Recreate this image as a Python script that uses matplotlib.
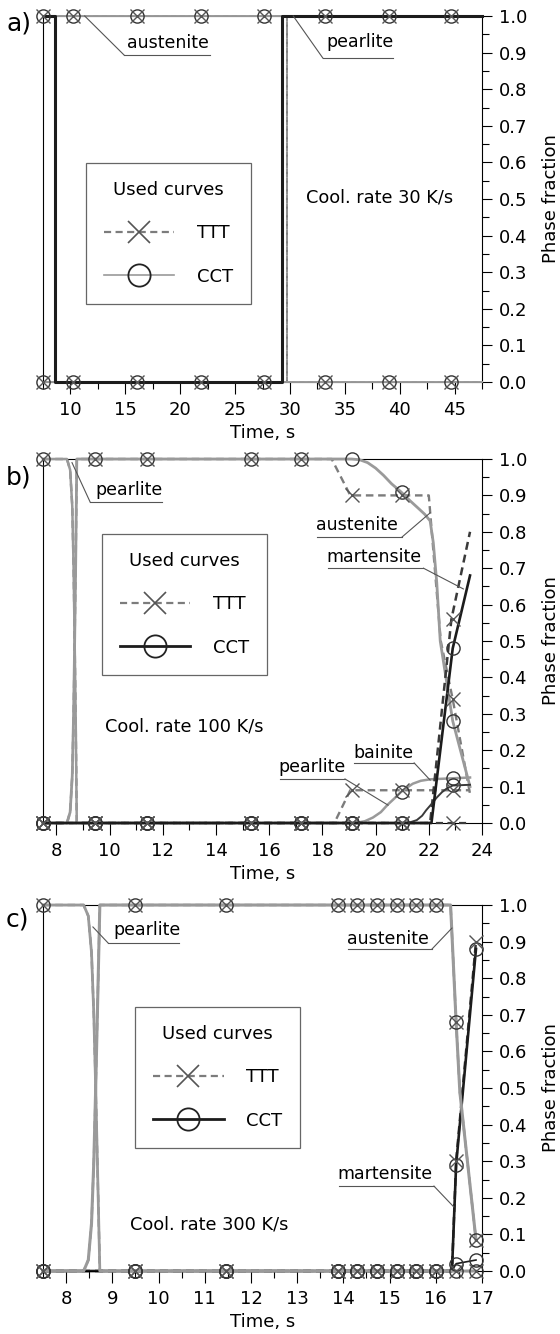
import matplotlib
matplotlib.use("Agg")
import matplotlib.pyplot as plt
from matplotlib.lines import Line2D
from matplotlib.ticker import MultipleLocator, FixedLocator, FormatStrFormatter

plt.rcParams['font.family'] = ['DejaVu Sans']

W, H = 560, 1334

# ---------------- common ----------------
y_ticks = [0.0, 0.1, 0.2, 0.3, 0.4, 0.5, 0.6, 0.7, 0.8, 0.9, 1.0]

# ---------------- panel a : 30 K/s ----------------
a_xticks = [10, 15, 20, 25, 30, 35, 40, 45]
a_cct_t = [7.5, 8.6, 8.6, 29.3, 29.3, 47.5]
a_ttt_t = [7.5, 8.6, 8.6, 29.7, 29.7, 47.5]
a_aust_f = [0.0, 0.0, 1.0, 1.0, 0.0, 0.0]
a_pearl_f = [1.0, 1.0, 0.0, 0.0, 1.0, 1.0]
a_mark_t = [7.5, 10.2, 16.1, 21.9, 27.6, 33.2, 39.0, 44.7]
a_mark_aust = [0, 1, 1, 1, 1, 0, 0, 0]
a_mark_pearl = [1, 0, 0, 0, 0, 1, 1, 1]

# ---------------- panel b : 100 K/s ----------------
b_xticks = [8, 10, 12, 14, 16, 18, 20, 22, 24]
b_spike_t = [8.40, 8.52, 8.60, 8.65, 8.69, 8.73, 8.77]
b_spike_up = [0.0, 0.03, 0.13, 0.30, 0.50, 0.72, 1.0]
b_spike_down = [1.0, 0.97, 0.87, 0.70, 0.50, 0.28, 0.0]
b_aust_cct_t = [19.1, 19.4, 19.7, 20.0, 20.3, 20.6, 20.95, 21.3, 21.6, 21.85, 22.05,
                22.17, 22.3, 22.43, 22.9, 23.55]
b_aust_cct_f = [1.0, 0.998, 0.99, 0.975, 0.955, 0.932, 0.91, 0.885, 0.865, 0.848, 0.83,
                0.77, 0.66, 0.50, 0.28, 0.10]
b_aust_ttt_t = [18.35, 19.05, 22.0, 22.45, 22.9, 23.55]
b_aust_ttt_f = [1.0, 0.90, 0.90, 0.50, 0.34, 0.08]
b_pearl_cct_t = [19.25, 19.6, 19.9, 20.2, 20.45, 20.7, 20.95, 21.2, 21.4, 21.7, 22.05, 23.55]
b_pearl_cct_f = [0.0, 0.005, 0.015, 0.03, 0.05, 0.067, 0.085, 0.098, 0.108, 0.116, 0.12, 0.125]
b_pearl_ttt_t = [18.45, 19.05, 23.55]
b_pearl_ttt_f = [0.0, 0.09, 0.09]
b_bain_cct_t = [7.5, 21.0, 21.3, 21.55, 21.75, 21.9, 22.1, 22.3, 22.5, 22.68, 22.9, 23.55]
b_bain_cct_f = [0.0, 0.0, 0.002, 0.008, 0.02, 0.035, 0.052, 0.07, 0.085, 0.095, 0.103, 0.105]
b_bain_ttt_t = [7.5, 23.55]
b_bain_ttt_f = [0.0, 0.0]
b_mart_cct_t = [7.5, 22.1, 22.9, 23.55]
b_mart_cct_f = [0.0, 0.0, 0.48, 0.68]
b_mart_ttt_t = [7.5, 22.05, 22.85, 23.55]
b_mart_ttt_f = [0.0, 0.0, 0.56, 0.80]
b_mark_t = [7.5, 9.45, 11.4, 15.3, 17.2, 19.1, 21.0, 22.9]
b_mark_aust_cct = [0, 1, 1, 1, 1, 1, 0.91, 0.28]
b_mark_aust_ttt = [0, 1, 1, 1, 1, 0.9, 0.9, 0.34]
b_mark_pearl_cct = [1, 0, 0, 0, 0, 0, 0.085, 0.125]
b_mark_pearl_ttt = [1, 0, 0, 0, 0, 0.09, 0.09, 0.09]
b_mark_bain_cct = [0, 0, 0, 0, 0, 0, 0, 0.105]
b_mark_bain_ttt = [0, 0, 0, 0, 0, 0, 0, 0]
b_mark_mart_cct = [0, 0, 0, 0, 0, 0, 0, 0.48]
b_mark_mart_ttt = [0, 0, 0, 0, 0, 0, 0, 0.56]

# ---------------- panel c : 300 K/s ----------------
c_xticks = [8, 9, 10, 11, 12, 13, 14, 15, 16, 17]
c_spike_t = [8.38, 8.48, 8.55, 8.60, 8.64, 8.68, 8.73]
c_spike_up = [0.0, 0.03, 0.13, 0.30, 0.50, 0.72, 1.0]
c_spike_down = [1.0, 0.97, 0.87, 0.70, 0.50, 0.28, 0.0]
c_aust_t = [16.32, 16.44, 16.52, 16.87]
c_aust_f = [1.0, 0.68, 0.49, 0.085]
c_pearl_t = [16.87]
c_pearl_f = [0.0]
c_mart_cct_t = [7.5, 16.35, 16.44, 16.87]
c_mart_cct_f = [0.0, 0.0, 0.29, 0.88]
c_mart_ttt_t = [7.5, 16.35, 16.44, 16.87]
c_mart_ttt_f = [0.0, 0.0, 0.30, 0.90]
c_bain_cct_t = [7.5, 16.35, 16.44, 16.87]
c_bain_cct_f = [0.0, 0.0, 0.02, 0.03]
c_mark_t = [7.5, 9.5, 11.45, 13.88, 14.3, 14.73, 15.15, 15.58, 16.0, 16.44, 16.87]
c_mark_aust = [0, 1, 1, 1, 1, 1, 1, 1, 1, 0.68, 0.085]
c_mark_pearl = [1, 0, 0, 0, 0, 0, 0, 0, 0, 0, 0]
c_mark_mart_cct = [0, 0, 0, 0, 0, 0, 0, 0, 0, 0.29, 0.88]
c_mark_mart_ttt = [0, 0, 0, 0, 0, 0, 0, 0, 0, 0.30, 0.90]
c_mark_bain_cct = [0, 0, 0, 0, 0, 0, 0, 0, 0, 0.02, 0.03]

GRAY = '#9a9a9a'
DGRAY = '#7c7c7c'
BLACK = '#1c1c1c'
DARK = '#3a3a3a'
DASH = (0, (3.2, 2.0))

fig = plt.figure(figsize=(W / 100, H / 100), dpi=100)


def px_axes(top, bottom):
    return fig.add_axes([43 / W, 1 - bottom / H, 439 / W, (bottom - top) / H])


axA = px_axes(16, 382)
axB = px_axes(459, 823)
axC = px_axes(905, 1271)


def style(ax, xlim, xticks, minor):
    ax.set_xlim(*xlim)
    ax.set_ylim(0, 1)
    ax.xaxis.set_major_locator(FixedLocator(xticks))
    ax.xaxis.set_minor_locator(MultipleLocator(minor))
    ax.yaxis.set_major_locator(FixedLocator(y_ticks))
    ax.yaxis.set_minor_locator(MultipleLocator(0.05))
    ax.yaxis.set_major_formatter(FormatStrFormatter('%.1f'))
    ax.yaxis.tick_right()
    ax.yaxis.set_label_position('right')
    ax.tick_params(axis='x', which='major', direction='out', length=8.5, width=0.8,
                   pad=5, labelsize=13, top=False)
    ax.tick_params(axis='x', which='minor', direction='out', length=5, width=0.8, top=False)
    ax.tick_params(axis='y', which='major', direction='out', length=7, width=0.8,
                   pad=5.5, labelsize=13, left=False, right=True)
    ax.tick_params(axis='y', which='minor', direction='out', length=5, width=0.8,
                   left=False, right=True)
    for s in ax.spines.values():
        s.set_linewidth(0.8)
        s.set_color('black')
    ax.set_xlabel('Time, s', fontsize=13, labelpad=4)
    ax.set_ylabel('Phase fraction', fontsize=13, labelpad=10)


def line(ax, t, f, color, lw, dashed=False, z=2):
    ax.plot(t, f, color=color, lw=lw, ls=DASH if dashed else '-', clip_on=False,
            zorder=z, solid_joinstyle='round')


def cct_marks(ax, t, f):
    ax.plot(t, f, ls='none', marker='o', ms=9.5, mfc='none', mec='#333333', mew=1.0,
            clip_on=False, zorder=6)


def ttt_marks(ax, t, f):
    ax.plot(t, f, ls='none', marker='x', ms=9.5, mec='#555555', mew=1.0,
            clip_on=False, zorder=6)


def note(ax, text, tx, ty, ux0, ux1, uy, lx, ly, lead_from_right=True, size=12.5):
    ax.text(tx, ty, text, fontsize=size, ha='center', va='center', zorder=7)
    ax.plot([ux0, ux1], [uy, uy], color='#555555', lw=0.8, clip_on=False, zorder=7)
    sx = ux1 if lead_from_right else ux0
    ax.plot([sx, lx], [uy, ly], color='#555555', lw=0.8, clip_on=False, zorder=7)


def legend(ax, x, y, cct_color, cct_lw):
    h_ttt = Line2D([], [], color=DGRAY, lw=1.6, ls=DASH, marker='x', ms=16,
                   mec='#555555', mew=1.2)
    h_cct = Line2D([], [], color=cct_color, lw=cct_lw, marker='o', ms=16,
                   mfc='none', mec='#222222', mew=1.3)
    lg = ax.legend([h_ttt, h_cct], ['TTT', 'CCT'], title='Used curves',
                   loc='upper left', bbox_to_anchor=(x, y), borderaxespad=0,
                   fontsize=13, title_fontsize=13, frameon=True, fancybox=False,
                   edgecolor='#666666', framealpha=1, borderpad=1.0,
                   labelspacing=1.4, handlelength=3.9, handletextpad=1.25)
    lg.get_frame().set_linewidth(0.9)
    lg.set_zorder(8)


# ---------------- draw panel a ----------------
style(axA, (7.5, 47.5), a_xticks, 2.5)
line(axA, a_ttt_t, a_aust_f, DGRAY, 1.2, dashed=True, z=2)
line(axA, a_ttt_t, a_pearl_f, DGRAY, 1.2, dashed=True, z=2)
line(axA, a_cct_t, a_aust_f, GRAY, 1.4, z=3)
line(axA, a_cct_t, a_pearl_f, BLACK, 2.2, z=4)
for f in (a_mark_aust, a_mark_pearl):
    cct_marks(axA, a_mark_t, f)
    ttt_marks(axA, a_mark_t, f)
note(axA, 'austenite', 18.9, 0.925, 14.9, 22.7, 0.893, 11.3, 1.0, lead_from_right=False)
note(axA, 'pearlite', 36.4, 0.928, 33.0, 39.4, 0.885, 30.3, 1.0, lead_from_right=False)
axA.text(38.2, 0.505, 'Cool. rate 30 K/s', fontsize=12.8, ha='center', va='center')
legend(axA, 0.098, 0.598, GRAY, 1.2)

# ---------------- draw panel b ----------------
style(axB, (7.5, 24), b_xticks, 1)
line(axB, [7.5] + b_spike_t + b_aust_ttt_t, [0.0] + b_spike_up + b_aust_ttt_f, DGRAY, 1.7, True, 2)
line(axB, [7.5] + b_spike_t + b_pearl_ttt_t, [1.0] + b_spike_down + b_pearl_ttt_f, DGRAY, 1.7, True, 2)
line(axB, [7.5] + b_spike_t + b_aust_cct_t, [0.0] + b_spike_up + b_aust_cct_f, GRAY, 2.0, False, 3)
line(axB, [7.5] + b_spike_t + b_pearl_cct_t, [1.0] + b_spike_down + b_pearl_cct_f, GRAY, 1.8, False, 3)
line(axB, b_bain_ttt_t, b_bain_ttt_f, DARK, 1.6, True, 4)
line(axB, b_mart_ttt_t, b_mart_ttt_f, DARK, 1.8, True, 4)
line(axB, b_bain_cct_t, b_bain_cct_f, DARK, 1.4, False, 5)
line(axB, b_mart_cct_t, b_mart_cct_f, BLACK, 1.9, False, 5)
for f in (b_mark_aust_cct, b_mark_pearl_cct, b_mark_bain_cct, b_mark_mart_cct):
    cct_marks(axB, b_mark_t, f)
for f in (b_mark_aust_ttt, b_mark_pearl_ttt, b_mark_bain_ttt, b_mark_mart_ttt):
    ttt_marks(axB, b_mark_t, f)
note(axB, 'pearlite', 10.75, 0.915, 9.27, 11.97, 0.882, 8.59, 0.99, lead_from_right=False)
note(axB, 'austenite', 19.3, 0.818, 17.8, 21.0, 0.786, 22.05, 0.852)
note(axB, 'martensite', 19.95, 0.73, 18.2, 21.8, 0.70, 23.3, 0.643)
note(axB, 'pearlite', 17.6, 0.155, 16.4, 18.85, 0.121, 20.47, 0.049)
note(axB, 'bainite', 20.3, 0.193, 19.2, 21.45, 0.165, 22.05, 0.118)
axB.text(12.8, 0.266, 'Cool. rate 100 K/s', fontsize=12.8, ha='center', va='center')
legend(axB, 0.134, 0.794, BLACK, 2.0)

# ---------------- draw panel c ----------------
style(axC, (7.5, 17), c_xticks, 0.5)
line(axC, c_mart_ttt_t, c_mart_ttt_f, DARK, 1.8, True, 2)
line(axC, c_mart_cct_t, c_mart_cct_f, BLACK, 1.9, False, 2)
line(axC, c_bain_cct_t, c_bain_cct_f, BLACK, 1.2, False, 2)
line(axC, [7.5] + c_spike_t + c_aust_t, [0.0] + c_spike_up + c_aust_f, DGRAY, 1.7, True, 3)
line(axC, [7.5] + c_spike_t + c_pearl_t, [1.0] + c_spike_down + c_pearl_f, DGRAY, 1.7, True, 3)
line(axC, [7.5] + c_spike_t + c_aust_t, [0.0] + c_spike_up + c_aust_f, GRAY, 2.2, False, 4)
line(axC, [7.5] + c_spike_t + c_pearl_t, [1.0] + c_spike_down + c_pearl_f, GRAY, 2.0, False, 4)
for f in (c_mark_aust, c_mark_pearl, c_mark_mart_cct, c_mark_bain_cct):
    cct_marks(axC, c_mark_t, f)
for f in (c_mark_aust, c_mark_pearl, c_mark_mart_ttt):
    ttt_marks(axC, c_mark_t, f)
note(axC, 'pearlite', 9.75, 0.932, 8.91, 10.44, 0.896, 8.58, 0.94, lead_from_right=False)
note(axC, 'austenite', 14.97, 0.907, 14.1, 15.92, 0.88, 16.35, 0.937)
note(axC, 'martensite', 14.89, 0.265, 13.91, 15.96, 0.232, 16.39, 0.175)
axC.text(11.09, 0.128, 'Cool. rate 300 K/s', fontsize=12.8, ha='center', va='center')
legend(axC, 0.21, 0.721, BLACK, 2.0)

# panel letters
for lab, py in (('a)', 24), ('b)', 477), ('c)', 920)):
    fig.text(6 / W, 1 - py / H, lab, fontsize=18, ha='left', va='center')

fig.savefig('out.png', dpi=100, facecolor='white')
